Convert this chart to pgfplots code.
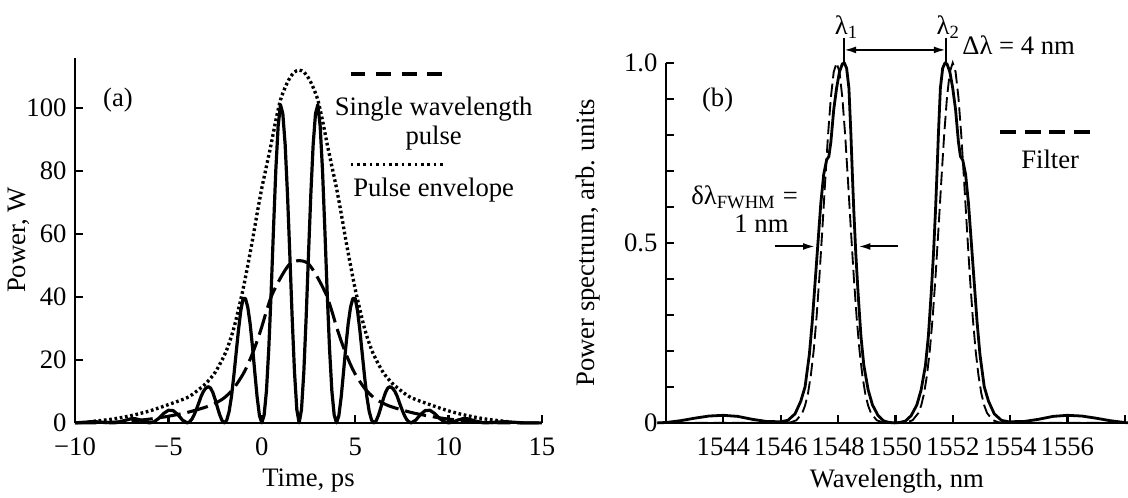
\documentclass[border=0pt]{standalone}
\usepackage{fontspec}
\setmainfont{Liberation Serif}
\usepackage{pgfplots}
\pgfplotsset{compat=1.18}
\usetikzlibrary{arrows.meta}
\begin{document}
\begin{tikzpicture}
\useasboundingbox (0,0) rectangle (423pt,186.375pt);
\pgfplotsset{
  myaxis/.style={
    scale only axis,
    axis lines=left,
    axis line style={-, line width=0.85pt},
    tick align=inside,
    major tick length=3pt,
    minor tick length=3pt,
    tick style={black, line width=0.85pt},
    /pgf/number format/assume math mode=true,
    tick label style={font=\fontsize{10}{12}\selectfont},
    label style={font=\fontsize{10}{12}\selectfont},
    xticklabel style={yshift=-2.5pt},
    clip=false,
  },
  every node/.append style={inner sep=1pt},
}
% ---------------- panel (a)
\begin{axis}[myaxis, at={(28.125pt,27.8pt)}, anchor=south west,
  width=175.125pt, height=137pt,
  xmin=-10, xmax=15, ymin=0, ymax=116,
  xtick={-10,-5,0,5,10,15}, xticklabels={−10,−5,0,5,10,15},
  ytick={0,20,40,60,80,100}, yticklabels={0,20,40,60,80,100},
  xlabel={Time, ps}, ylabel={Power, W},
  xticklabel style={inner sep=3pt}, yticklabel style={inner sep=3pt},
  xlabel style={at={(axis description cs:0.5,-0.157)}, anchor=center},
  ylabel style={at={(axis description cs:-0.121,0.5)}, anchor=center},
]
% pulse envelope (dotted)
\addplot[black, line width=1.25pt, dash pattern=on 1pt off 1pt, smooth] coordinates {
(-9.3,0.2) (-9,0.5) (-8,1.2) (-7,2.3) (-6,3.8) (-5,5.8) (-4,8) (-3.5,10) (-3,12.5) (-2.5,16) (-2,21.5)
(-1.75,25.3) (-1.5,30) (-1.25,36) (-1,42.5) (-0.75,50) (-0.5,58) (-0.25,66.5) (0,74.5) (0.25,81.5)
(0.5,88.5) (0.75,96) (1,102.5) (1.25,106.5) (1.5,109.5) (1.75,111.4) (2,112) (2.25,111.4) (2.5,109.5)
(2.75,106.5) (3,102.5) (3.25,96) (3.5,88.5) (3.75,81.5) (4,74.5) (4.25,66.5) (4.5,58) (4.75,50) (5,42.5)
(5.25,36) (5.5,30) (5.75,25.3) (6,21.5) (6.5,16) (7,12.5) (7.5,10) (8,8) (9,5.8) (10,3.8) (11,2.3)
(12,1.2) (13,0.5) (13.3,0.2)};
% single wavelength pulse (dashed)
\addplot[black, line width=1.15pt, dash pattern=on 8pt off 2.6pt, smooth] coordinates {
(-10,0) (-9,0) (-8,0.2) (-7,0.6) (-6,1.2) (-5,2.1) (-4,3.3) (-3,5) (-2.5,6.2) (-2,8) (-1.5,11) (-1,15.5)
(-0.75,18.5) (-0.5,22) (-0.25,26) (0,30.5) (0.25,35.5) (0.5,40) (0.75,43.2) (1,46) (1.25,48.5) (1.5,50.5)
(1.75,51.3) (2,51.5) (2.25,51.3) (2.5,50.5) (2.75,48.5) (3,46) (3.25,43.2) (3.5,40) (3.75,35.5) (4,30.5)
(4.25,26) (4.5,22) (4.75,18.5) (5,15.5) (5.5,11) (6,8) (6.5,6.2) (7,5) (8,3.3) (9,2.1) (10,1.2) (11,0.6)
(12,0.2) (13,0) (15,0)};
% dual wavelength pulse (solid)
\addplot[black, line width=1.2pt, line join=round] coordinates {
(-10,0) (-9.5,0.2) (-9,0.4) (-8.5,0.2) (-8,0) (-7.75,0.1) (-7.5,0.5) (-7.25,0.9) (-7,1.3) (-6.75,1.3)
(-6.5,0.9) (-6.25,0.3) (-6,0) (-5.75,0.4) (-5.5,1.5) (-5.25,3.0) (-5,4.0) (-4.75,3.9) (-4.5,2.7)
(-4.25,0.9) (-4,0) (-3.875,0.3) (-3.75,1.1) (-3.625,2.5) (-3.5,4.3) (-3.375,6.3) (-3.25,8.4)
(-3.125,10.0) (-3,11.0) (-2.875,11.5) (-2.75,11.1) (-2.625,9.7) (-2.5,7.5) (-2.375,4.9) (-2.25,2.5)
(-2.125,0.7) (-2,0) (-1.875,0.9) (-1.75,3.6) (-1.625,8.3) (-1.5,14.8) (-1.375,22.1) (-1.25,29.4)
(-1.125,35.6) (-1,39.5) (-0.875,39.5) (-0.75,36.7) (-0.625,31.5) (-0.5,24.3) (-0.375,16.1) (-0.25,8.2)
(-0.125,2.3) (0,0) (0.125,2.5) (0.25,10.2) (0.375,23.7) (0.5,41.4) (0.625,61.4) (0.75,80.2) (0.875,94.2)
(1,101) (1.125,98.2) (1.25,88.4) (1.375,72.6) (1.5,53.5) (1.625,33.5) (1.75,16.2) (1.875,4.2) (2,0)
(2.125,4.2) (2.25,16.2) (2.375,33.5) (2.5,53.5) (2.625,72.6) (2.75,88.4) (2.875,98.2) (3,101)
(3.125,94.2) (3.25,80.2) (3.375,61.4) (3.5,41.4) (3.625,23.7) (3.75,10.2) (3.875,2.5) (4,0)
(4.125,2.3) (4.25,8.2) (4.375,16.1) (4.5,24.3) (4.625,31.5) (4.75,36.7) (4.875,39.5) (5,39.5)
(5.125,35.6) (5.25,29.4) (5.375,22.1) (5.5,14.8) (5.625,8.3) (5.75,3.6) (5.875,0.9) (6,0) (6.125,0.7)
(6.25,2.5) (6.375,4.9) (6.5,7.5) (6.625,9.7) (6.75,11.1) (6.875,11.5) (7,11.0) (7.125,10.0) (7.25,8.4)
(7.375,6.3) (7.5,4.3) (7.625,2.5) (7.75,1.1) (7.875,0.3) (8,0) (8.25,0.9) (8.5,2.7) (8.75,3.9) (9,4.0)
(9.25,3.0) (9.5,1.5) (9.75,0.4) (10,0) (10.25,0.3) (10.5,0.9) (10.75,1.3) (11,1.3) (11.25,0.9)
(11.5,0.5) (11.75,0.1) (12,0) (12.5,0.2) (13,0.4) (13.5,0.2) (14,0) (15,0)};
% annotations
\draw[line width=1.5pt, dash pattern=on 5.6pt off 4pt] (axis cs:4.75,110.9) -- (axis cs:9.72,110.9);
\node[font=\fontsize{10}{12}\selectfont] at (axis cs:9.2,99.7) {Single wavelength};
\node[font=\fontsize{10}{12}\selectfont] at (axis cs:9.2,90.5) {pulse};
\draw[line width=1.2pt, dash pattern=on 1pt off 1.4pt] (axis cs:4.75,82) -- (axis cs:9.72,82);
\node[font=\fontsize{10}{12}\selectfont] at (axis cs:9.2,73.8) {Pulse envelope};
\node[font=\fontsize{10}{12}\selectfont] at (axis cs:-7.7,102.4) {(a)};
\end{axis}
% ---------------- panel (b)
\begin{axis}[myaxis, at={(249.75pt,27.8pt)}, anchor=south west,
  width=173.1pt, height=135pt,
  xmin=1542, xmax=1558.1, ymin=0, ymax=1,
  xtick={1544,1546,1548,1550,1552,1554,1556,1558},
  xticklabels={1544,1546,1548,1550,1552,1554,1556,{}},
  ytick={0,0.5,1}, yticklabels={0,0.5,1.0},
  minor ytick={0.1,0.2,0.3,0.4,0.6,0.7,0.8,0.9},
  xlabel={Wavelength, nm}, ylabel={Power spectrum, arb. units},
  xticklabel style={inner sep=3pt}, yticklabel style={inner sep=3pt},
  xlabel style={at={(axis description cs:0.5,-0.163)}, anchor=center},
  ylabel style={at={(axis description cs:-0.169,0.5)}, anchor=center},
]
% filter (dashed)
\addplot[black, line width=0.7pt, dash pattern=on 5pt off 2pt] coordinates {
(1541.7,0) (1546.15,0) (1546.35,0.0016) (1546.55,0.0073) (1546.75,0.027) (1546.85,0.048) (1546.95,0.081)
(1547.05,0.131) (1547.15,0.2) (1547.25,0.292) (1547.35,0.405) (1547.45,0.534) (1547.55,0.669)
(1547.65,0.798) (1547.75,0.904) (1547.85,0.975) (1547.95,1) (1548.05,0.975) (1548.15,0.904)
(1548.25,0.798) (1548.35,0.669) (1548.45,0.534) (1548.55,0.405) (1548.65,0.292) (1548.75,0.2)
(1548.85,0.131) (1548.95,0.081) (1549.05,0.048) (1549.15,0.027) (1549.35,0.0073) (1549.55,0.0016)
(1549.75,0) (1550.2,0) (1550.4,0.0016) (1550.6,0.0073) (1550.8,0.027) (1550.9,0.048) (1551,0.081)
(1551.1,0.131) (1551.2,0.2) (1551.3,0.292) (1551.4,0.405) (1551.5,0.534) (1551.6,0.669) (1551.7,0.798)
(1551.8,0.904) (1551.9,0.975) (1552,1) (1552.1,0.975) (1552.2,0.904) (1552.3,0.798) (1552.4,0.669)
(1552.5,0.534) (1552.6,0.405) (1552.7,0.292) (1552.8,0.2) (1552.9,0.131) (1553,0.081) (1553.1,0.048)
(1553.2,0.027) (1553.4,0.0073) (1553.6,0.0016) (1553.8,0) (1558.1,0)};
% spectrum (solid)
\addplot[black, line width=1.05pt, line join=round] coordinates {
(1541.7,0) (1542,0.001) (1542.5,0.006) (1543,0.013) (1543.5,0.019) (1544,0.021) (1544.5,0.018)
(1545,0.01) (1545.5,0.004) (1546,0.003) (1546.25,0.007) (1546.5,0.025) (1546.7,0.06) (1546.85,0.1)
(1547,0.19) (1547.1,0.28) (1547.2,0.39) (1547.3,0.5) (1547.4,0.61) (1547.5,0.69) (1547.6,0.73)
(1547.68,0.74) (1547.75,0.78) (1547.85,0.87) (1547.95,0.93) (1548.05,0.975) (1548.15,0.997)
(1548.22,1.0) (1548.3,0.985) (1548.38,0.93) (1548.45,0.80) (1548.5,0.69) (1548.55,0.59) (1548.62,0.47)
(1548.7,0.36) (1548.8,0.24) (1548.9,0.16) (1549.05,0.092) (1549.2,0.05) (1549.4,0.02) (1549.6,0.005)
(1549.8,0.001) (1549.975,0) (1550.15,0.001) (1550.35,0.005) (1550.55,0.02) (1550.75,0.05)
(1550.9,0.092) (1551.05,0.16) (1551.15,0.24) (1551.25,0.36) (1551.33,0.47) (1551.4,0.59) (1551.45,0.69)
(1551.5,0.80) (1551.57,0.93) (1551.65,0.985) (1551.73,1.0) (1551.8,0.997) (1551.9,0.975) (1552,0.93)
(1552.1,0.87) (1552.2,0.78) (1552.27,0.74) (1552.35,0.73) (1552.45,0.69) (1552.55,0.61) (1552.65,0.5)
(1552.75,0.39) (1552.85,0.28) (1552.95,0.19) (1553.1,0.1) (1553.25,0.06) (1553.45,0.025) (1553.7,0.007)
(1553.95,0.003) (1554.5,0.004) (1555,0.01) (1555.5,0.018) (1556,0.021) (1556.5,0.019) (1557,0.013)
(1557.5,0.006) (1558,0.001) (1558.1,0)};
% annotations
\draw[line width=0.75pt] (axis cs:1548.21,0.999) -- (axis cs:1548.21,1.069);
\draw[line width=0.75pt] (axis cs:1551.76,0.999) -- (axis cs:1551.76,1.069);
\draw[line width=0.75pt, {Latex[length=4.5pt,width=2.6pt]}-{Latex[length=4.5pt,width=2.6pt]}]
  (axis cs:1548.21,1.036) -- (axis cs:1551.76,1.036);
\node[font=\fontsize{10}{12}\selectfont] at (axis cs:1548.3,1.1) {λ\textsubscript{1}};
\node[font=\fontsize{10}{12}\selectfont] at (axis cs:1551.85,1.1) {λ\textsubscript{2}};
\node[font=\fontsize{10}{12}\selectfont] at (axis cs:1554.3,1.05) {Δλ = 4 nm};
\node[font=\fontsize{10}{12}\selectfont] at (axis cs:1543.8,0.897) {(b)};
\draw[line width=1.5pt, dash pattern=on 6pt off 3.2pt] (axis cs:1553.65,0.809) -- (axis cs:1556.8,0.809);
\node[font=\fontsize{10}{12}\selectfont] at (axis cs:1555.4,0.731) {Filter};
\node[font=\fontsize{10}{12}\selectfont] at (axis cs:1544.74,0.628) {δλ\textsubscript{FWHM} =};
\node[font=\fontsize{10}{12}\selectfont] at (axis cs:1545.33,0.553) {1 nm};
\draw[line width=0.75pt, -{Latex[length=4.5pt,width=2.6pt]}] (axis cs:1545.8,0.49) -- (axis cs:1547.2,0.49);
\draw[line width=0.75pt, -{Latex[length=4.5pt,width=2.6pt]}] (axis cs:1550.1,0.49) -- (axis cs:1548.71,0.49);
\end{axis}
\end{tikzpicture}
\end{document}
